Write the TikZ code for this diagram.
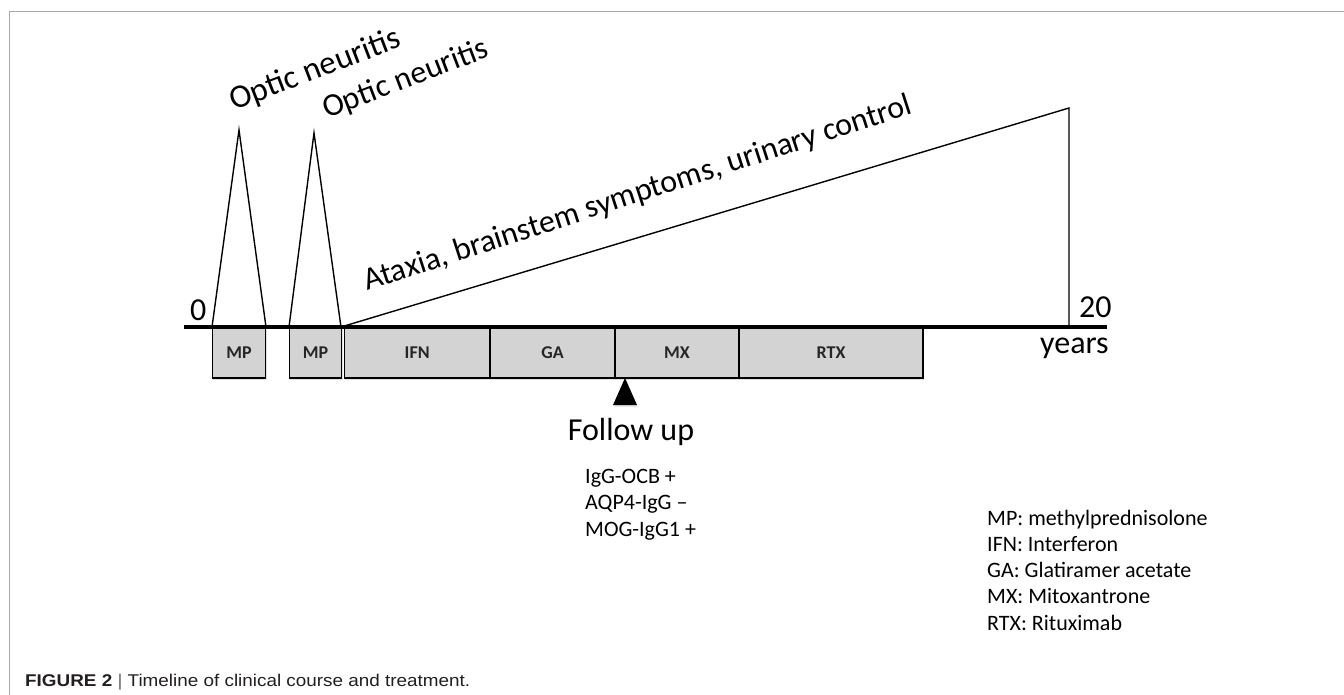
\documentclass[tikz,border=0pt]{standalone}
\usepackage{fontspec}
\usepackage{graphicx}
\setmainfont{Carlito}
\newfontfamily\capfont{Liberation Sans}
\usetikzlibrary{shadows}
\definecolor{boxgray}{RGB}{211,211,211}
\definecolor{framegray}{RGB}{170,170,170}
\definecolor{captext}{RGB}{35,31,32}
\begin{document}
\begin{tikzpicture}[x=1pt,y=-1pt,
  peak/.style={line width=1.4pt, line join=miter},
  tbox/.style={draw, line width=1.1pt, fill=boxgray, minimum height=50pt, inner sep=0pt,
    font=\fontsize{18}{20}\selectfont\bfseries, text=black!85,
    drop shadow={shadow xshift=1pt, shadow yshift=-2pt, opacity=0.25}},
  big/.style={font=\fontsize{32}{36}\selectfont, inner sep=0pt},
  small/.style={font=\fontsize{22}{26.2}\selectfont, inner sep=0pt, align=left}
]
\useasboundingbox (0,0) rectangle (1344,695);
% frame
\draw[framegray, line width=1pt] (9,695) -- (9,12) -- (1344,12);

% peaks and slope
\coordinate (p1l) at (212,327);
\coordinate (p1t) at (239,130);
\coordinate (p1r) at (266,327);
\coordinate (p2l) at (289,327);
\coordinate (p2t) at (314,133);
\coordinate (p2r) at (341,327);
\coordinate (atx) at (1069,108);
\coordinate (atxb) at (1069,327);
\draw[peak] (p1l) -- (p1t) -- (p1r);
\draw[peak] (p2l) -- (p2t) -- (p2r);
\draw[peak] (p2r) -- (atx) -- (atxb);

% treatment boxes
\node[tbox, minimum width=53.4pt] (mp1) at (239,353) {MP};
\node[tbox, minimum width=52.4pt] (mp2) at (315.5,353) {MP};
\node[tbox, minimum width=145.7pt] (ifn) at (417.2,353) {IFN};
\node[tbox, minimum width=125pt] (ga) at (552.5,353) {GA};
\node[tbox, minimum width=124pt] (mx) at (677,353) {MX};
\node[tbox, minimum width=184pt] (rtx) at (831,353) {RTX};

% axis
\coordinate (axL) at (184,327);
\coordinate (axR) at (1107,327);
\draw[line width=4.5pt] (axL) -- (axR);

% follow-up marker
\fill[drop shadow={shadow xshift=0.5pt, shadow yshift=-2pt, opacity=0.2}] (613,405) -- (625,378) -- (637,405) -- cycle;

% labels
\node[big, anchor=base west] (zero) at (190,320) {0};
\node[big, anchor=base west] (twenty) at (1079,317) {20};
\node[big, anchor=base west] (years) at (1040,353) {years};
\node[big, anchor=base west, rotate=21, font=\fontsize{33}{36}\selectfont] (on1) at (234,111) {Optic neuritis};
\node[big, anchor=base west, rotate=21] (on2) at (327,119) {Optic neuritis};
\node[big, anchor=base west, rotate=18] (ataxia) at (367,291) {Ataxia, brainstem symptoms, urinary control};
\node[big, anchor=base] (follow) at (631,440) {Follow up};
% multi-line nodes: base anchor is the last line's baseline
\node[small, anchor=base west] (ab) at (585,536) {IgG-OCB +\\AQP4-IgG –\\MOG-IgG1 +};
\node[small, anchor=base west] (legend) at (987,630) {MP: methylprednisolone\\IFN: Interferon\\GA: Glatiramer acetate\\MX: Mitoxantrone\\RTX: Rituximab};

% caption
\node[anchor=base west, inner sep=0pt, text=captext] (caption) at (25,686)
  {\resizebox{445pt}{\height}{\capfont\fontsize{17}{20}\selectfont\textbf{FIGURE 2} {\color{black!60}|} Timeline of clinical course and treatment.}};
\end{tikzpicture}
\end{document}
